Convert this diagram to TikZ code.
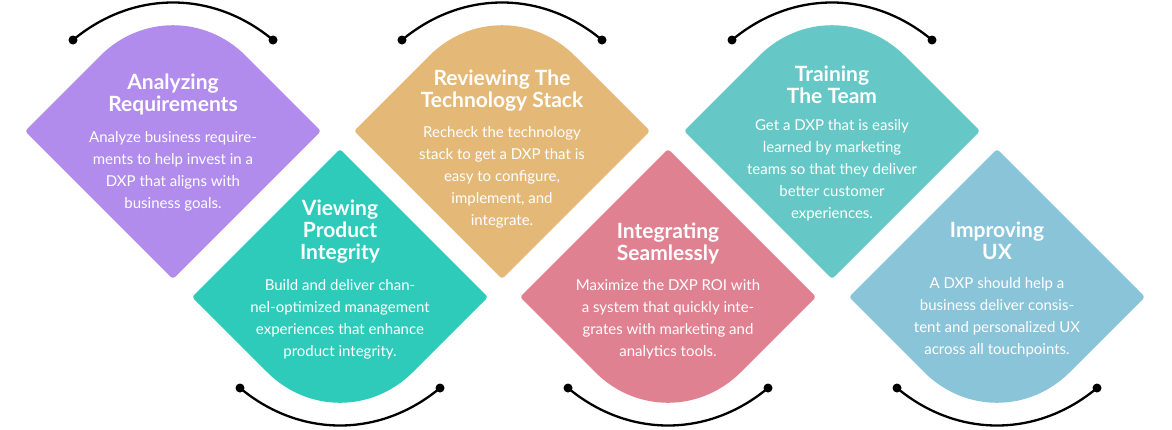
\documentclass[tikz,border=0pt]{standalone}
\usepackage{fontspec}
\setmainfont{Lato}
\definecolor{cA}{HTML}{B18CEC}
\definecolor{cB}{HTML}{2ECBBB}
\definecolor{cC}{HTML}{E4B978}
\definecolor{cD}{HTML}{E08191}
\definecolor{cE}{HTML}{66C8C6}
\definecolor{cF}{HTML}{8AC4D9}
\tikzset{
 ttl/.style={text=white,align=center,font=\fontsize{21}{22}\selectfont\bfseries,inner sep=0pt},
 bdy/.style={text=white,align=center,font=\fontsize{15}{22}\selectfont,inner sep=0pt},
 arc/.style={line width=2.3pt,black},
 tip/.style={fill=black}
}
\newcommand{\topshape}[2]{\fill[#2,rounded corners=3pt] (#1-148,131) -- (#1-75,58) .. controls (#1-32,15) and (#1+32,15) .. (#1+75,58) -- (#1+148,131) -- (#1,279) -- cycle;}
\newcommand{\botshape}[2]{\fill[#2,rounded corners=3pt] (#1-148,297) -- (#1-75,370) .. controls (#1-32,413) and (#1+32,413) .. (#1+75,370) -- (#1+148,297) -- (#1,149) -- cycle;}
\newcommand{\toparc}[1]{\draw[arc] (#1-100,40) .. controls (#1-40,-10) and (#1+40,-10) .. (#1+100,40);
 \fill[tip] (#1-100,40) circle (4.5); \fill[tip] (#1+100,40) circle (4.5);}
\newcommand{\botarc}[1]{\draw[arc] (#1-100,388) .. controls (#1-40,438) and (#1+40,438) .. (#1+100,388);
 \fill[tip] (#1-100,388) circle (4.5); \fill[tip] (#1+100,388) circle (4.5);}
\begin{document}
\begin{tikzpicture}[x=1pt,y=-1pt]
\useasboundingbox (0,0) rectangle (1172,429);
\topshape{173}{cA}\botshape{340}{cB}\topshape{502}{cC}\botshape{668}{cD}\topshape{832}{cE}\botshape{997}{cF}
\toparc{173}\botarc{340}\toparc{502}\botarc{668}\toparc{832}\botarc{997}
\node[ttl] (t1) at (173,94) {Analyzing\\Requirements};
\node[bdy] (b1) at (173,171) {Analyze business require-\\ments to help invest in a\\DXP that aligns with\\business goals.};
\node[ttl] (t2) at (340,232) {Viewing\\Product\\Integrity};
\node[bdy] (b2) at (340,319) {Build and deliver chan-\\nel-optimized management\\experiences that enhance\\product integrity.};
\node[ttl] (t3) at (502,91) {Reviewing The\\Technology Stack};
\node[bdy] (b3) at (502,177) {Recheck the technology\\stack to get a DXP that is\\easy to configure,\\implement, and\\integrate.};
\node[ttl] (t4) at (668,243) {Integrating\\Seamlessly};
\node[bdy] (b4) at (668,319) {Maximize the DXP ROI with\\a system that quickly inte-\\grates with marketing and\\analytics tools.};
\node[ttl] (t5) at (832,85) {Training\\The Team};
\node[bdy] (b5) at (832,170) {Get a DXP that is easily\\learned by marketing\\teams so that they deliver\\better customer\\experiences.};
\node[ttl] (t6) at (997,241) {Improving\\UX};
\node[bdy] (b6) at (997,317) {A DXP should help a\\business deliver consis-\\tent and personalized UX\\across all touchpoints.};
\end{tikzpicture}
\end{document}
